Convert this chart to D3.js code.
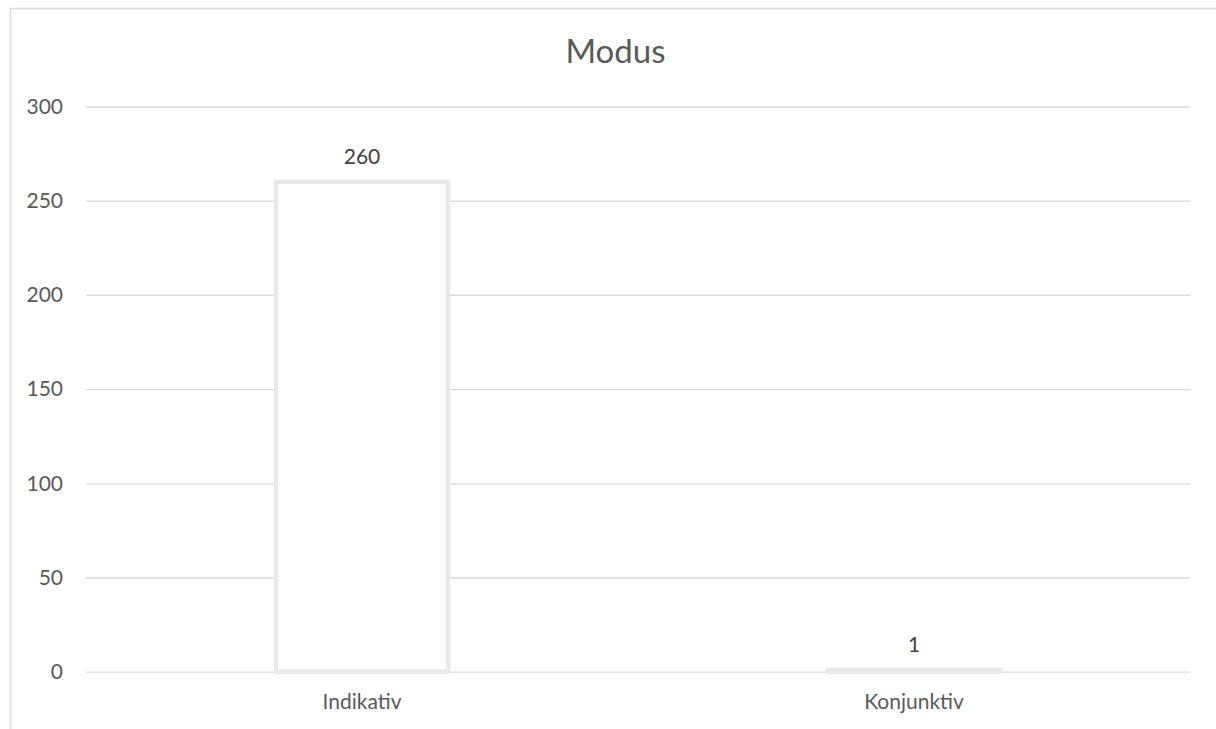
<!DOCTYPE html>
<html>
<head>
<meta charset="utf-8">
<script src="https://cdn.jsdelivr.net/npm/d3@7"></script>
<style>
  html, body { margin: 0; padding: 0; background: #fff; }
  svg { display: block; font-family: Lato, "Open Sans", sans-serif; }
</style>
</head>
<body>
<svg id="chart" width="1216" height="729"></svg>
<script>
// Counts per verb mood
const categories = ["Indikativ", "Konjunktiv"];
const counts = [260, 1];
const yTicks = [0, 50, 100, 150, 200, 250, 300];
const title = "Modus";

const svg = d3.select("#chart");
const W = 1216, H = 729;
const plot = { left: 86, right: 1190, top: 106.5, bottom: 671.7 };
const fontStack = "Lato, 'Open Sans', sans-serif";

// Outer frame
svg.append("rect")
  .attr("x", 10.5).attr("y", 8.5)
  .attr("width", W + 10).attr("height", H + 10)
  .attr("fill", "#fff").attr("stroke", "#d9d9d9").attr("stroke-width", 1.5);

const x = d3.scaleBand()
  .domain(categories)
  .range([plot.left, plot.right])
  .paddingInner(0.68)
  .paddingOuter(0.34);

const y = d3.scaleLinear()
  .domain([0, 300])
  .range([plot.bottom, plot.top]);

// Horizontal gridlines with value labels
const yAxis = d3.axisLeft(y)
  .tickValues(yTicks)
  .tickSize(-(plot.right - plot.left))
  .tickPadding(23);

const gy = svg.append("g")
  .attr("transform", `translate(${plot.left},0)`)
  .call(yAxis);
gy.select(".domain").remove();
gy.selectAll(".tick line").attr("stroke", "#d9d9d9").attr("stroke-width", 1.3);
gy.selectAll(".tick text")
  .attr("fill", "#595959")
  .style("font-size", "21px")
  .style("font-family", fontStack);

// Category labels
const xAxis = d3.axisBottom(x).tickSize(0).tickPadding(22.7);
const gx = svg.append("g")
  .attr("transform", `translate(0,${plot.bottom})`)
  .call(xAxis);
gx.select(".domain").remove();
gx.selectAll(".tick text")
  .attr("fill", "#595959")
  .style("font-size", "21px")
  .style("font-family", fontStack);

// Bars: white fill with light outline
const sw = 4.5;
svg.append("g").selectAll("rect")
  .data(counts)
  .join("rect")
  .attr("x", (d, i) => x(categories[i]) + sw / 2)
  .attr("width", x.bandwidth() - sw)
  .attr("y", d => y(d))
  .attr("height", d => Math.max(0, plot.bottom - y(d)))
  .attr("fill", "#fff")
  .attr("stroke", "#e9e9e9")
  .attr("stroke-width", sw);

// Value labels
svg.append("g").selectAll("text")
  .data(counts)
  .join("text")
  .attr("x", (d, i) => x(categories[i]) + x.bandwidth() / 2)
  .attr("y", d => y(d) - 18)
  .attr("text-anchor", "middle")
  .attr("fill", "#404040")
  .style("font-size", "21px")
  .text(d => d);

// Title
svg.append("text")
  .attr("x", 615.5)
  .attr("y", 63)
  .attr("text-anchor", "middle")
  .attr("fill", "#595959")
  .style("font-size", "33px")
  .text(title);
</script>
</body>
</html>
